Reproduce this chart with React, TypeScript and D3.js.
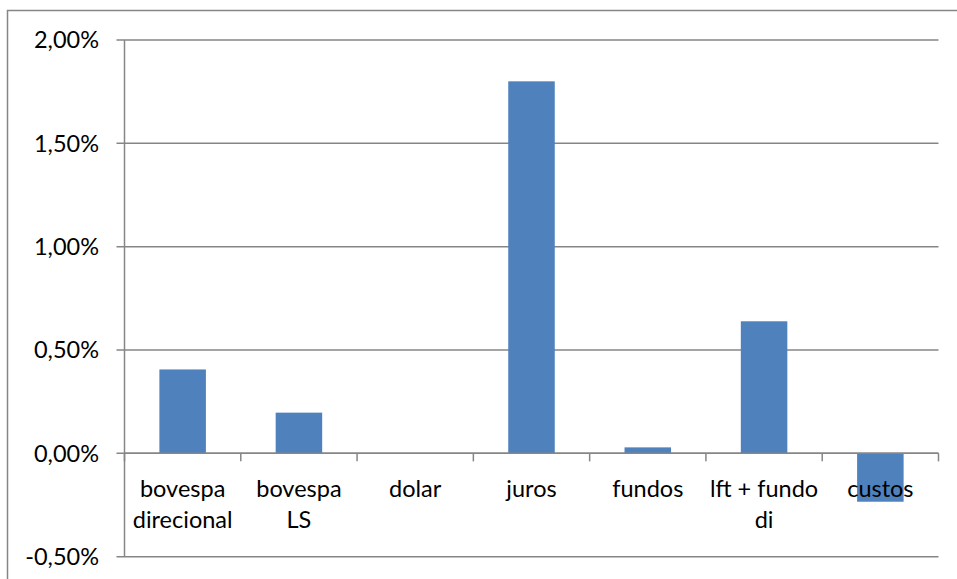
import * as d3 from "d3";
import React, { useEffect, useRef } from "react";

// categorias (labels em linhas) e valores em %
const categories = [
  ["bovespa", "direcional"],
  ["bovespa", "LS"],
  ["dolar"],
  ["juros"],
  ["fundos"],
  ["lft + fundo", "di"],
  ["custos"],
];
const values = [0.406, 0.197, 0, 1.8, 0.029, 0.639, -0.234];
const yTicks = [-0.5, 0, 0.5, 1.0, 1.5, 2.0];

const App = () => {
  const svgRef = useRef<SVGSVGElement>(null);

  useEffect(() => {
    const width = 957;
    const height = 579;
    const left = 124.5;
    const right = 938.5;
    const top = 40;
    const bottom = 556.7;
    const font = "Lato, 'Open Sans', sans-serif";
    const fontSize = 23.5;
    const axisColor = "#868686";

    const svg = d3.select(svgRef.current).attr("width", width).attr("height", height);
    svg.selectAll("*").remove();

    // borda externa
    svg
      .append("rect")
      .attr("x", 7.5)
      .attr("y", 10.5)
      .attr("width", width + 10)
      .attr("height", height + 10)
      .attr("fill", "white")
      .attr("stroke", axisColor)
      .attr("stroke-width", 1.5);

    const x = d3
      .scaleBand()
      .domain(categories.map((d, i) => String(i)))
      .range([left, right]);
    const y = d3.scaleLinear().domain([-0.5, 2.0]).range([bottom, top]);

    // grade horizontal + ticks do eixo y
    const g = svg.append("g");
    g.selectAll("line.grid")
      .data(yTicks)
      .join("line")
      .attr("x1", left - 8)
      .attr("x2", right)
      .attr("y1", (d) => y(d))
      .attr("y2", (d) => y(d))
      .attr("stroke", axisColor)
      .attr("stroke-width", 1.5);

    g.selectAll("text.ylab")
      .data(yTicks)
      .join("text")
      .attr("x", 99)
      .attr("y", (d) => y(d))
      .attr("dy", "0.35em")
      .attr("text-anchor", "end")
      .attr("font-family", font)
      .attr("font-size", fontSize)
      .attr("fill", "#000")
      .text((d) => d.toFixed(2).replace(".", ",") + "%");

    // eixo y
    g.append("line")
      .attr("x1", left)
      .attr("x2", left)
      .attr("y1", top)
      .attr("y2", bottom)
      .attr("stroke", axisColor)
      .attr("stroke-width", 1.5);

    // barras
    const bw = x.bandwidth() * 0.4;
    g.selectAll("rect.bar")
      .data(values)
      .join("rect")
      .attr("x", (d, i) => x(String(i))! + (x.bandwidth() - bw) / 2)
      .attr("y", (d) => y(Math.max(0, d)))
      .attr("width", bw)
      .attr("height", (d) => Math.abs(y(d) - y(0)))
      .attr("fill", "#4F81BD");

    // linha zero e ticks de categoria
    g.append("line")
      .attr("x1", left)
      .attr("x2", right)
      .attr("y1", y(0))
      .attr("y2", y(0))
      .attr("stroke", axisColor)
      .attr("stroke-width", 1.5);

    const tickPos = categories.map((d, i) => x(String(i))!).concat([right]);
    g.selectAll("line.xtick")
      .data(tickPos)
      .join("line")
      .attr("x1", (d) => d)
      .attr("x2", (d) => d)
      .attr("y1", y(0))
      .attr("y2", y(0) + 8)
      .attr("stroke", axisColor)
      .attr("stroke-width", 1.5);

    // labels das categorias
    const labels = g
      .selectAll("text.xlab")
      .data(categories)
      .join("text")
      .attr("text-anchor", "middle")
      .attr("font-family", font)
      .attr("font-size", fontSize)
      .attr("fill", "#000");
    labels
      .selectAll("tspan")
      .data((d, i) => d.map((t) => ({ t, i })))
      .join("tspan")
      .attr("x", (d) => x(String(d.i))! + x.bandwidth() / 2)
      .attr("y", (d, j) => 497 + j * 31)
      .text((d) => d.t);
  }, []);

  return <svg ref={svgRef} style={{ position: "absolute", left: 0, top: 0 }}></svg>;
};

export default App;
